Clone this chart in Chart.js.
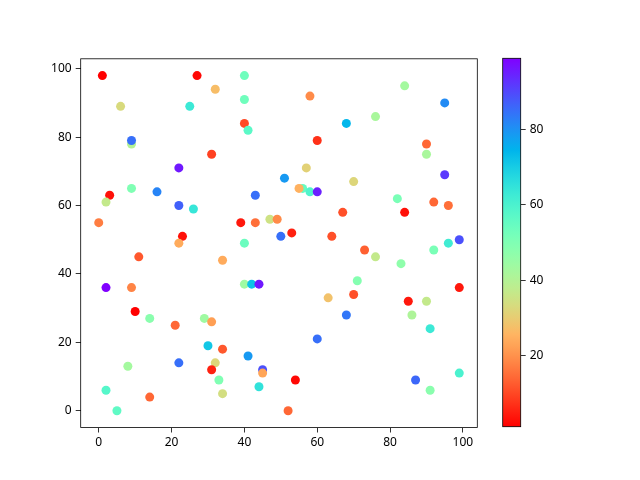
<!DOCTYPE html>
<html lang="en">
<head>
    <meta charset="UTF-8">
    <title>Scatter with colorbar</title>
    <script src="https://cdn.jsdelivr.net/npm/chart.js"></script>
    <style>
        html, body { margin: 0; padding: 0; background: #fff; }
        #wrap { position: relative; width: 640px; height: 480px; }
        #wrap canvas { position: absolute; left: 0; top: 0; }
    </style>
</head>
<body>
<div id="wrap">
    <canvas id="scatterChart" width="640" height="480"></canvas>
    <canvas id="colorbarChart" width="640" height="480"></canvas>
</div>
<script>
    // Dados: posição x, posição y e valor de cor
    const xValues = [1, 27, 32, 6, 25, 9, 9, 31, 22, 9, 3, 2, 16, 22, 26, 0, 23, 22,
        40, 40, 58, 40, 41, 68, 60, 57, 51, 70, 43, 56, 55, 58, 60, 67, 39, 43, 47, 49, 50, 53, 64, 40,
        84, 95, 76, 90, 90, 95, 82, 92, 96, 84, 99, 96,
        11, 2, 9, 10, 14, 21, 29, 31, 34, 30, 34, 22, 8, 32, 31, 33, 34, 2, 14, 5,
        40, 42, 44, 63, 70, 68, 60, 41, 45, 45, 54, 44, 52,
        73, 76, 83, 92, 71, 99, 85, 90, 86, 91, 99, 87, 91];
    const yValues = [98, 98, 94, 89, 89, 78, 79, 75, 71, 65, 63, 61, 64, 60, 59, 55, 51, 49,
        98, 91, 92, 84, 82, 84, 79, 71, 68, 67, 63, 65, 65, 64, 64, 58, 55, 55, 56, 56, 51, 52, 51, 49,
        95, 90, 86, 78, 75, 69, 62, 61, 60, 58, 50, 49,
        45, 36, 36, 29, 27, 25, 27, 26, 44, 19, 18, 14, 13, 14, 12, 9, 5, 6, 4, 0,
        37, 37, 37, 33, 34, 28, 21, 16, 12, 11, 9, 7, 0,
        47, 45, 43, 47, 38, 36, 32, 32, 28, 24, 11, 9, 6];
    const colorValues = [1, 2, 27, 33, 63, 40, 85, 9, 96, 50, 3, 37, 82, 87, 64, 17, 3, 24,
        53, 53, 19, 10, 57, 74, 7, 31, 79, 32, 85, 55, 25, 59, 95, 11, 4, 15, 35, 19, 85, 5, 11, 54,
        43, 81, 42, 14, 42, 92, 51, 14, 15, 3, 89, 62,
        12, 99, 18, 1, 48, 14, 44, 22, 24, 71, 12, 85, 43, 32, 5, 50, 34, 58, 14, 56,
        44, 72, 96, 28, 11, 84, 85, 79, 89, 23, 2, 65, 14,
        13, 37, 47, 51, 49, 4, 4, 37, 41, 63, 60, 86, 48];

    const xTicks = [0, 20, 40, 60, 80, 100];
    const yTicks = [0, 20, 40, 60, 80, 100];
    const cbTicks = [20, 40, 60, 80];

    const cMin = Math.min(...colorValues);
    const cMax = Math.max(...colorValues);

    // mapa de cores "rainbow" invertido (vermelho = baixo, roxo = alto)
    function rainbowR(v) {
        const t = 1 - (v - cMin) / (cMax - cMin);
        const r = Math.min(1, Math.abs(2 * t - 0.5));
        const g = Math.sin(Math.PI * t);
        const b = Math.cos(Math.PI * t / 2);
        return `rgb(${Math.round(r * 255)}, ${Math.round(g * 255)}, ${Math.round(b * 255)})`;
    }

    const tickFont = { family: '"Noto Sans", sans-serif', size: 12 };

    // moldura preta em volta da área do gráfico
    const framePlugin = {
        id: 'frame',
        afterDraw(chart) {
            const { ctx, chartArea: a } = chart;
            ctx.save();
            ctx.strokeStyle = '#000';
            ctx.lineWidth = 0.8;
            ctx.strokeRect(a.left, a.top, a.right - a.left, a.bottom - a.top);
            ctx.restore();
        }
    };

    const points = xValues.map((x, i) => ({ x: x, y: yValues[i] }));

    new Chart(document.getElementById('scatterChart'), {
        type: 'scatter',
        data: {
            datasets: [{
                data: points,
                backgroundColor: colorValues.map(rainbowR),
                borderWidth: 0,
                pointRadius: 4.5,
                pointHoverRadius: 4.5
            }]
        },
        options: {
            responsive: false,
            animation: false,
            events: [],
            layout: { padding: { left: 0, top: 58.8, right: 162.7, bottom: 0 } },
            plugins: { legend: { display: false }, tooltip: { enabled: false } },
            scales: {
                x: {
                    type: 'linear',
                    min: -4.95,
                    max: 103.95,
                    afterBuildTicks: s => { s.ticks = xTicks.map(v => ({ value: v })); },
                    afterFit: s => { s.height = 52.5; },
                    border: { display: false },
                    grid: { drawOnChartArea: false, drawTicks: true, tickLength: 5, color: '#000', lineWidth: 0.8 },
                    ticks: { color: '#000', font: tickFont, padding: 3, maxRotation: 0, autoSkip: false }
                },
                y: {
                    type: 'linear',
                    min: -4.9,
                    max: 102.9,
                    afterBuildTicks: s => { s.ticks = yTicks.map(v => ({ value: v })); },
                    afterFit: s => { s.width = 80.7; },
                    border: { display: false },
                    grid: { drawOnChartArea: false, drawTicks: true, tickLength: 5, color: '#000', lineWidth: 0.8 },
                    ticks: { color: '#000', font: tickFont, padding: 4, autoSkip: false }
                }
            }
        },
        plugins: [framePlugin]
    });

    // barra de cores como um gráfico de barra flutuante com gradiente
    new Chart(document.getElementById('colorbarChart'), {
        type: 'bar',
        data: {
            labels: [''],
            datasets: [{
                data: [[cMin, cMax]],
                backgroundColor: c => {
                    const { ctx, chartArea, scales } = c.chart;
                    if (!chartArea) return null;
                    const y0 = scales.y.getPixelForValue(cMin);
                    const y1 = scales.y.getPixelForValue(cMax);
                    const grad = ctx.createLinearGradient(0, y0, 0, y1);
                    for (let i = 0; i <= 64; i++) {
                        grad.addColorStop(i / 64, rainbowR(cMin + (cMax - cMin) * i / 64));
                    }
                    return grad;
                },
                borderWidth: 0,
                barPercentage: 1,
                categoryPercentage: 1
            }]
        },
        options: {
            responsive: false,
            animation: false,
            events: [],
            layout: { padding: { left: 502.7, top: 58.3, right: 0, bottom: 53.3 } },
            plugins: { legend: { display: false }, tooltip: { enabled: false } },
            scales: {
                x: { display: false },
                y: {
                    position: 'right',
                    min: cMin,
                    max: cMax,
                    afterBuildTicks: s => { s.ticks = cbTicks.map(v => ({ value: v })); },
                    afterFit: s => { s.width = 640 - 520.7; },
                    border: { display: false },
                    grid: { drawOnChartArea: false, drawTicks: true, tickLength: 5, color: '#000', lineWidth: 0.8 },
                    ticks: { color: '#000', font: tickFont, padding: 4, autoSkip: false }
                }
            }
        },
        plugins: [framePlugin]
    });
</script>
</body>
</html>
